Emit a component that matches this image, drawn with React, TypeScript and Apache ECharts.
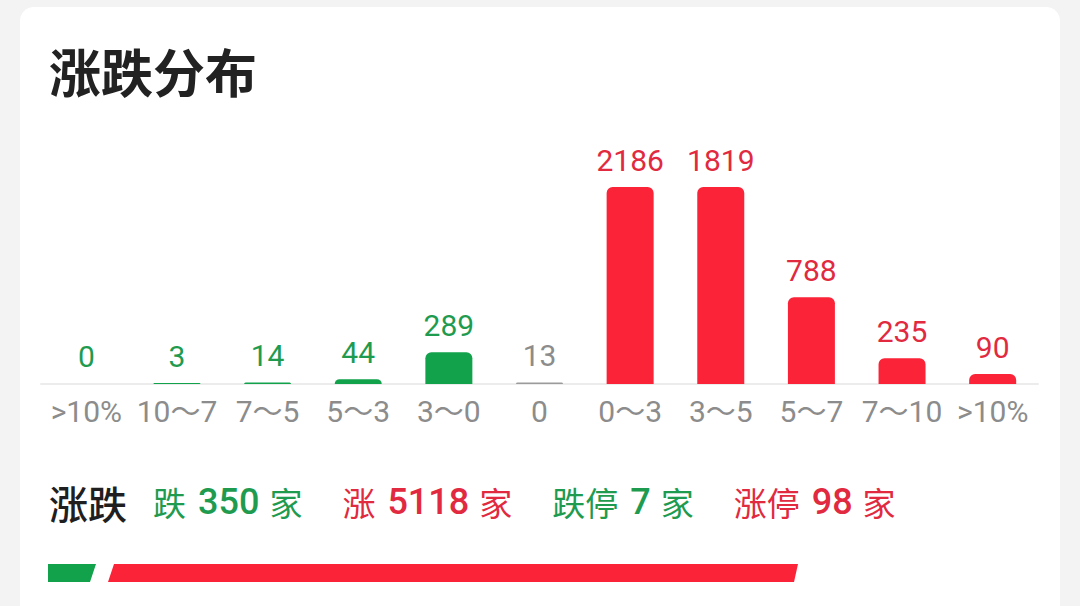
import { useEffect, useRef } from "react";
import * as echarts from "echarts";

const categories = [">10%", "10～7", "7～5", "5～3", "3～0", "0", "0～3", "3～5", "5～7", "7～10", ">10%"];
const counts = [0, 3, 14, 44, 289, 13, 2186, 1819, 788, 235, 90];
// -1 = 跌, 0 = 平, 1 = 涨
const directions = [-1, -1, -1, -1, -1, 0, 1, 1, 1, 1, 1];

const summaryLabels = ["跌", "涨", "跌停", "涨停"];
const summaryValues = [350, 5118, 7, 98];
const summaryDirections = [-1, 1, -1, 1];

const downTotal = 350;
const upTotal = 5118;

const GREEN = "#13a24c";
const RED = "#fb2337";
const GRAY = "#9b9b9b";
const GREEN_TEXT = "#1f9b50";
const RED_TEXT = "#e12a40";
const GRAY_TEXT = "#8c8c8c";

const CJK = "'Noto Sans CJK SC', sans-serif";
const NUM = "Roboto, 'Noto Sans CJK SC', sans-serif";

function barColor(dir: number) {
  return dir < 0 ? GREEN : dir > 0 ? RED : GRAY;
}
function textColor(dir: number) {
  return dir < 0 ? GREEN_TEXT : dir > 0 ? RED_TEXT : GRAY_TEXT;
}

export default function App() {
  const chartRef = useRef<HTMLDivElement>(null);

  useEffect(() => {
    if (!chartRef.current) {
      return undefined;
    }
    const chart = echarts.init(chartRef.current, null, { renderer: "svg" });

    const summaryText =
      "{k|涨跌}" +
      summaryLabels
        .map((label, i) => {
          const c = summaryDirections[i] < 0 ? "g" : "r";
          const first = i === 0 ? "0" : "";
          return `{${c}l${first}|${label}}{${c}v|${summaryValues[i]}}{${c}u|家}`;
        })
        .join("");

    const labelStyle = (color: string, leftPad: number) => ({
      fontFamily: CJK,
      fontSize: 33,
      fontWeight: "normal",
      color,
      padding: [0, 0, 0, leftPad],
    });
    const valueStyle = (color: string) => ({
      fontFamily: NUM,
      fontSize: 36,
      fontWeight: 500,
      color,
      padding: [0, 10, 0, 12],
    });

    chart.setOption({
      animation: false,
      backgroundColor: "#f3f3f3",
      graphic: [
        {
          type: "rect",
          left: 20,
          top: 7,
          z: -10,
          shape: { width: 1040, height: 660, r: 14 },
          style: { fill: "#ffffff" },
        },
      ],
      title: [
        {
          text: "涨跌分布",
          left: 49,
          top: 44,
          padding: 0,
          textStyle: { fontFamily: CJK, fontSize: 52, fontWeight: "bold", color: "#222222" },
        },
        {
          text: summaryText,
          left: 49,
          top: 482,
          padding: 0,
          textStyle: {
            fontWeight: "normal",
            rich: {
              k: { fontFamily: CJK, fontSize: 39, fontWeight: 500, color: "#1f1f1f", padding: [0, 26, 0, 0] },
              gl0: labelStyle(GREEN_TEXT, 0),
              gl: labelStyle(GREEN_TEXT, 40),
              gv: valueStyle(GREEN_TEXT),
              gu: labelStyle(GREEN_TEXT, 0),
              rl0: labelStyle(RED_TEXT, 0),
              rl: labelStyle(RED_TEXT, 40),
              rv: valueStyle(RED_TEXT),
              ru: labelStyle(RED_TEXT, 0),
            },
          },
        },
      ],
      grid: [
        { left: 41, right: 42, top: 187, bottom: 222 },
        { left: 48, width: 750, top: 564, height: 18 },
      ],
      xAxis: [
        {
          type: "category",
          gridIndex: 0,
          data: categories,
          axisTick: { show: false },
          axisLine: { lineStyle: { color: "#ececec", width: 2 } },
          axisLabel: { color: GRAY_TEXT, fontSize: 30, fontFamily: NUM, margin: 12, interval: 0 },
        },
        { type: "value", gridIndex: 1, min: 0, max: downTotal + upTotal, show: false },
      ],
      yAxis: [
        { type: "value", gridIndex: 0, min: 0, max: 1790, show: false },
        { type: "value", gridIndex: 1, min: -1, max: 1, show: false },
      ],
      series: [
        {
          type: "bar",
          xAxisIndex: 0,
          yAxisIndex: 0,
          barWidth: 47,
          barMinHeight: 1,
          clip: true,
          data: counts.map((value, i) => ({
            value,
            itemStyle: {
              color: value === 0 ? "transparent" : barColor(directions[i]),
              borderRadius: [6, 6, 0, 0],
            },
            label: { color: textColor(directions[i]) },
          })),
          label: {
            show: true,
            position: "top",
            distance: 12,
            fontSize: 30,
            fontWeight: "normal",
            fontFamily: NUM,
          },
        },
        {
          type: "custom",
          xAxisIndex: 1,
          yAxisIndex: 1,
          data: [
            [0, downTotal, -1],
            [downTotal, downTotal + upTotal, 1],
          ],
          renderItem: (params: any, api: any) => {
            const x0 = api.coord([api.value(0), 0])[0];
            const x1 = api.coord([api.value(1), 0])[0];
            const top = params.coordSys.y;
            const h = params.coordSys.height;
            const slant = 6;
            const down = api.value(2) < 0;
            const points = down
              ? [
                  [x0, top],
                  [x1, top],
                  [x1 - slant, top + h],
                  [x0, top + h],
                ]
              : [
                  [x0 + 12 + slant, top],
                  [x1, top],
                  [x1 - 4, top + h],
                  [x0 + 12, top + h],
                ];
            return {
              type: "polygon",
              shape: { points },
              style: { fill: down ? GREEN : RED },
            };
          },
        },
      ],
    });

    return () => {
      chart.dispose();
    };
  }, []);

  return (
    <div
      ref={chartRef}
      style={{ position: "fixed", left: 0, top: 0, width: 1080, height: 606 }}
      aria-label="涨跌分布"
    />
  );
}
